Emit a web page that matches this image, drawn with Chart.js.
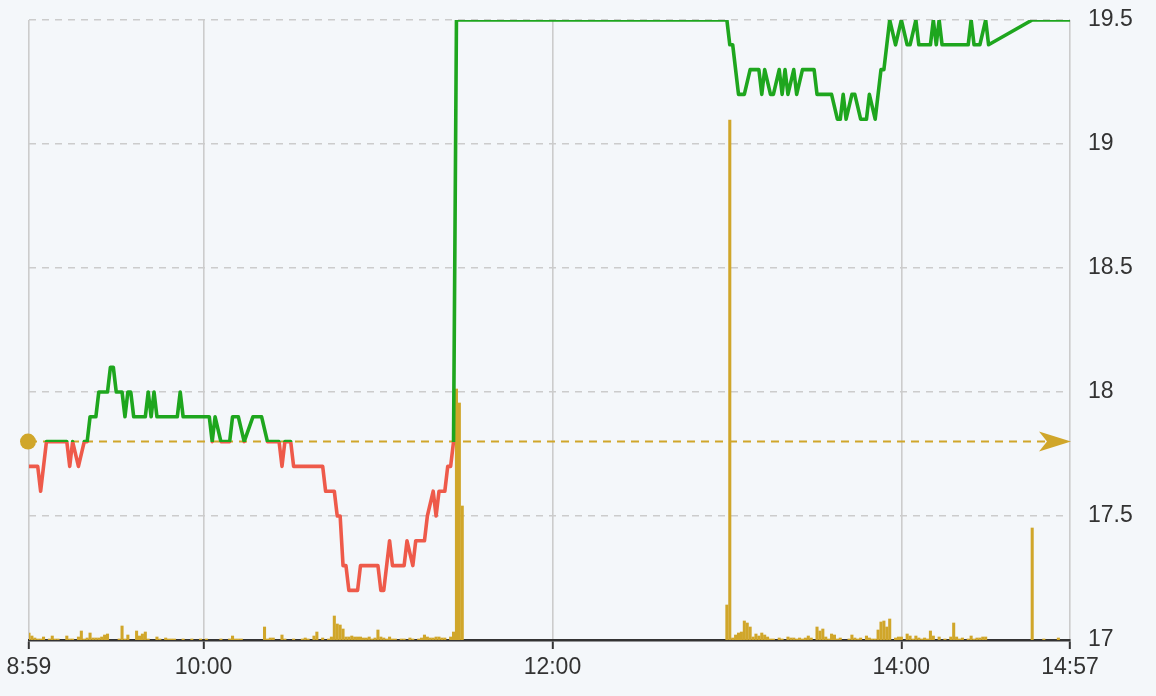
<!DOCTYPE html>
<html>
<head>
<meta charset="utf-8">
<script src="https://cdn.jsdelivr.net/npm/chart.js@4.4.1/dist/chart.umd.min.js"></script>
<style>
  html, body { margin: 0; padding: 0; background: #f4f7fa; }
  #wrap { width: 1156px; height: 696px; }
</style>
</head>
<body>
<div id="wrap"><canvas id="grafico" width="1156" height="696"></canvas></div>
<script>
// minutes counted from 8:59 (index 0) to 14:57 (index 358)
const tickMinutes = [0, 60, 180, 300, 358];
const tickLabels = ["8:59", "10:00", "12:00", "14:00", "14:57"];
const prevClose = 17.8;

// price line, given at the minutes where it turns
const priceMinutes = [0, 3, 4, 6, 13, 14, 15, 17, 19, 20, 21, 23, 24, 27, 28, 29, 30, 32, 33, 34, 35, 36, 40, 41, 42, 43, 44, 51, 52, 53,
  62, 63, 64, 66, 69, 70, 72, 74, 77, 80, 82, 86, 87, 88, 90, 91, 101, 102, 105, 106, 107, 108, 109, 110, 113, 114, 120, 121, 122, 124,
  125, 129, 130, 132, 133, 136, 137, 139, 140, 141, 143, 144, 145, 146, 147,
  240, 241, 242, 244, 246, 248, 251, 252, 253, 255, 256, 258, 259, 260, 261, 263, 264, 266, 270, 271, 276, 278, 279, 280, 281, 283, 284,
  286, 288, 289, 291, 293, 294, 296, 298, 300, 302, 303, 305, 306, 310, 311, 312, 313, 314, 323, 324, 325, 327, 329, 330, 345, 358];
const prices = [17.7, 17.7, 17.6, 17.8, 17.8, 17.7, 17.8, 17.7, 17.8, 17.8, 17.9, 17.9, 18.0, 18.0, 18.1, 18.1, 18.0, 18.0, 17.9, 18.0, 18.0, 17.9, 17.9, 18.0, 17.9, 18.0, 17.9, 17.9, 18.0, 17.9,
  17.9, 17.8, 17.9, 17.8, 17.8, 17.9, 17.9, 17.8, 17.9, 17.9, 17.8, 17.8, 17.7, 17.8, 17.8, 17.7, 17.7, 17.6, 17.6, 17.5, 17.5, 17.3, 17.3, 17.2, 17.2, 17.3, 17.3, 17.2, 17.2, 17.4,
  17.3, 17.3, 17.4, 17.3, 17.4, 17.4, 17.5, 17.6, 17.5, 17.6, 17.6, 17.7, 17.7, 17.8, 19.5,
  19.5, 19.4, 19.4, 19.2, 19.2, 19.3, 19.3, 19.2, 19.3, 19.2, 19.2, 19.3, 19.2, 19.3, 19.2, 19.3, 19.2, 19.3, 19.3, 19.2, 19.2, 19.1, 19.1, 19.2, 19.1, 19.2, 19.2,
  19.1, 19.1, 19.2, 19.1, 19.3, 19.3, 19.5, 19.4, 19.5, 19.4, 19.4, 19.5, 19.4, 19.4, 19.5, 19.4, 19.5, 19.4, 19.4, 19.5, 19.4, 19.4, 19.5, 19.4, 19.5, 19.5];

// volume per minute (only minutes with trades)
const volumeMinutes = [0, 1, 2, 3, 4, 5, 7, 8, 9, 10, 13, 14, 15, 17, 18, 19, 20, 21, 22, 23, 24, 25, 26, 27, 31, 32, 33, 34, 37, 38, 39, 40, 41, 44, 45, 47, 48, 49, 50, 53, 56, 59, 61, 66, 69, 70, 71, 72, 73,
  81, 82, 83, 84, 87, 88, 91, 94, 95, 96, 98, 99, 101, 103, 104, 105, 106, 107, 108, 109, 110, 111, 112, 113, 114, 115, 116, 117, 118, 119, 120, 121, 122, 123, 124, 125, 126, 128, 129, 131, 132, 134, 135, 136, 137, 138, 139, 140, 141, 142, 143, 145, 146, 147, 148, 149,
  240, 241, 242, 243, 244, 245, 246, 247, 248, 249, 250, 251, 252, 253, 254, 255, 256, 258, 259, 261, 262, 263, 264, 265, 266, 267, 268, 269, 271, 272, 273, 274, 275, 276, 277, 278, 279, 282, 283, 284, 285, 286, 288, 289, 290, 291, 292, 293, 294, 295, 296, 298, 299,
  300, 302, 303, 304, 305, 306, 307, 308, 309, 310, 311, 313, 315, 317, 318, 319, 320, 321, 323, 324, 325, 326, 327, 328, 329, 345, 349, 354];
const volumes = [70, 40, 20, 10, 10, 30, 10, 40, 10, 10, 40, 10, 10, 30, 90, 10, 20, 70, 20, 20, 20, 30, 50, 60, 10, 140, 10, 50, 90, 40, 60, 80, 10, 30, 10, 20, 10, 10, 10, 10, 10, 10, 10, 10, 10, 40, 10, 10, 10,
  130, 10, 20, 20, 50, 10, 10, 10, 20, 10, 40, 80, 20, 10, 30, 240, 160, 150, 110, 30, 30, 40, 30, 30, 30, 20, 20, 30, 10, 20, 100, 30, 20, 10, 30, 10, 10, 10, 10, 20, 10, 10, 20, 50, 30, 20, 20, 30, 30, 20, 20, 30, 80, 2510, 2370, 1340,
  350, 5200, 20, 50, 70, 80, 190, 170, 130, 30, 60, 40, 70, 50, 30, 10, 10, 20, 10, 30, 20, 20, 10, 20, 10, 20, 40, 20, 130, 90, 110, 30, 10, 60, 50, 10, 20, 10, 50, 20, 10, 20, 40, 20, 10, 10, 100, 180, 190, 130, 210, 20, 30,
  30, 60, 40, 10, 40, 20, 10, 20, 10, 90, 40, 30, 10, 30, 170, 30, 10, 20, 10, 40, 10, 20, 20, 30, 30, 1120, 10, 20];

const verde = "#1ea61e";
const rojo = "#ee5a4a";
const oro = "#d0a62a";
const fuente = "'Helvetica Neue', Helvetica, Arial, 'Liberation Sans', sans-serif";

function colorLinea(context) {
  const chart = context.chart;
  const area = chart.chartArea;
  if (!area) return verde;
  const y = chart.scales.y.getPixelForValue(prevClose);
  const stop = Math.min(Math.max((y - area.top) / (area.bottom - area.top), 0), 1);
  const g = chart.ctx.createLinearGradient(0, area.top, 0, area.bottom);
  g.addColorStop(0, verde);
  g.addColorStop(stop, verde);
  g.addColorStop(stop, rojo);
  g.addColorStop(1, rojo);
  return g;
}

// dashed previous-close line with the dot on the left and the arrow on the right
const lineaCierre = {
  id: "lineaCierre",
  beforeDatasetsDraw(chart) {
    const { ctx, chartArea, scales } = chart;
    const y = scales.y.getPixelForValue(prevClose);
    ctx.save();
    ctx.strokeStyle = oro;
    ctx.lineWidth = 2;
    ctx.setLineDash([8, 6]);
    ctx.beginPath();
    ctx.moveTo(chartArea.left, y);
    ctx.lineTo(chartArea.right - 20, y);
    ctx.stroke();
    ctx.restore();
  },
  afterDatasetsDraw(chart) {
    const { ctx, chartArea, scales } = chart;
    const y = scales.y.getPixelForValue(prevClose);
    const r = chartArea.right;
    ctx.save();
    ctx.fillStyle = oro;
    ctx.beginPath();
    ctx.arc(chartArea.left - 1, y, 8, 0, Math.PI * 2);
    ctx.fill();
    ctx.beginPath();
    ctx.moveTo(r + 1, y);
    ctx.lineTo(r - 31, y - 10);
    ctx.lineTo(r - 23, y);
    ctx.lineTo(r - 31, y + 10);
    ctx.closePath();
    ctx.fill();
    ctx.restore();
  }
};

new Chart(document.getElementById("grafico"), {
  data: {
    datasets: [
      {
        type: "line",
        data: priceMinutes.map((m, i) => ({ x: m, y: prices[i] })),
        borderColor: colorLinea,
        borderWidth: 3.6,
        borderJoinStyle: "round",
        pointRadius: 0,
        tension: 0,
        yAxisID: "y",
        order: 0
      },
      {
        type: "bar",
        data: volumeMinutes.map((m, i) => ({ x: m, y: volumes[i] })),
        backgroundColor: oro,
        barThickness: 2.4,
        yAxisID: "vol",
        order: 1
      }
    ]
  },
  options: {
    responsive: false,
    animation: false,
    layout: { padding: { top: 20, left: 29, right: 0, bottom: 0 } },
    plugins: { legend: { display: false }, tooltip: { enabled: false } },
    scales: {
      x: {
        type: "linear",
        min: 0,
        max: 358,
        offset: false,
        afterBuildTicks: (scale) => { scale.ticks = tickMinutes.map(v => ({ value: v })); },
        afterFit: (scale) => { scale.height = 56; },
        ticks: {
          autoSkip: false,
          maxRotation: 0,
          padding: 5,
          color: "#333",
          font: { family: fuente, size: 23 },
          callback: (v) => tickLabels[tickMinutes.indexOf(v)]
        },
        grid: { offset: false, color: "#cccccc", lineWidth: 1.6, tickColor: "#333", tickLength: 9, tickWidth: 2 },
        border: { color: "#333", width: 2.5 }
      },
      y: {
        position: "right",
        min: 17,
        max: 19.5,
        afterFit: (scale) => {
          scale.width = 86;
          scale.paddingTop = 0;
          scale.paddingBottom = 0;
        },
        ticks: {
          stepSize: 0.5,
          padding: 18,
          color: "#333",
          font: { family: fuente, size: 23 },
          callback: (v) => String(v)
        },
        grid: { color: "#cccccc", lineWidth: 1.5, drawTicks: false },
        border: { display: false, dash: [7, 6] }
      },
      vol: {
        display: false,
        min: 0,
        max: 6200
      }
    }
  },
  plugins: [lineaCierre]
});
</script>
</body>
</html>
